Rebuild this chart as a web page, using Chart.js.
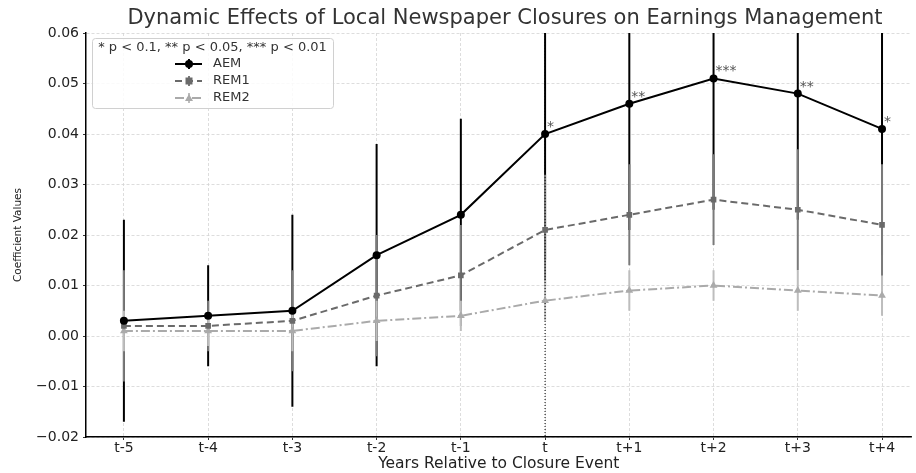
<!DOCTYPE html>
<html>
<head>
<meta charset="utf-8">
<script src="https://cdn.jsdelivr.net/npm/chart.js@4/dist/chart.umd.min.js"></script>
<style>
  html, body { margin: 0; padding: 0; background: #fff; }
  #chart { display: block; }
</style>
</head>
<body>
<canvas id="chart" width="916" height="473"></canvas>
<script>
const categories = ["t-5", "t-4", "t-3", "t-2", "t-1", "t", "t+1", "t+2", "t+3", "t+4"];
const aem = [0.003, 0.004, 0.005, 0.016, 0.024, 0.040, 0.046, 0.051, 0.048, 0.041];
const aemErr = [0.020, 0.010, 0.019, 0.022, 0.019, 0.025, 0.025, 0.026, 0.025, 0.025];
const rem1 = [0.002, 0.002, 0.003, 0.008, 0.012, 0.021, 0.024, 0.027, 0.025, 0.022];
const rem1Err = [0.011, 0.005, 0.010, 0.012, 0.010, 0.011, 0.010, 0.009, 0.012, 0.012];
const rem2 = [0.001, 0.001, 0.001, 0.003, 0.004, 0.007, 0.009, 0.010, 0.009, 0.008];
const rem2Err = [0.004, 0.003, 0.004, 0.004, 0.003, 0.004, 0.004, 0.003, 0.004, 0.004];
const stars = ["", "", "", "", "", "*", "**", "***", "**", "*"];
const eventIndex = 5;
const legendTitle = "* p < 0.1, ** p < 0.05, *** p < 0.01";

const FONT = "'DejaVu Sans', sans-serif";

function points(values) {
  return values.map((v, i) => ({ x: i, y: v }));
}

// vertical error bars, drawn under the lines
const errorBars = {
  id: "errorBars",
  beforeDatasetsDraw(chart) {
    const ctx = chart.ctx;
    const area = chart.chartArea;
    const xs = chart.scales.x;
    const ys = chart.scales.y;
    ctx.save();
    ctx.beginPath();
    ctx.rect(area.left, area.top, area.right - area.left, area.bottom - area.top);
    ctx.clip();
    chart.data.datasets.forEach((ds) => {
      ctx.strokeStyle = ds.errColor;
      ctx.lineWidth = 2;
      ds.data.forEach((p, i) => {
        const x = xs.getPixelForValue(p.x);
        ctx.beginPath();
        ctx.moveTo(x, ys.getPixelForValue(p.y + ds.err[i]));
        ctx.lineTo(x, ys.getPixelForValue(p.y - ds.err[i]));
        ctx.stroke();
      });
    });
    // dotted line at the closure event
    const xe = xs.getPixelForValue(eventIndex);
    ctx.strokeStyle = "#000";
    ctx.lineWidth = 1;
    ctx.setLineDash([1, 2]);
    ctx.beginPath();
    ctx.moveTo(xe, area.top);
    ctx.lineTo(xe, area.bottom);
    ctx.stroke();
    ctx.restore();
  },
  afterDatasetsDraw(chart) {
    const ctx = chart.ctx;
    const xs = chart.scales.x;
    const ys = chart.scales.y;
    ctx.save();
    ctx.fillStyle = "#555";
    ctx.font = "14px " + FONT;
    ctx.textAlign = "left";
    ctx.textBaseline = "alphabetic";
    stars.forEach((s, i) => {
      if (!s) return;
      ctx.fillText(s, xs.getPixelForValue(i) + 2, ys.getPixelForValue(aem[i]) - 3);
    });
    ctx.restore();
  },
};

// title and legend box
const decorations = {
  id: "decorations",
  afterDraw(chart) {
    const ctx = chart.ctx;
    ctx.save();
    ctx.fillStyle = "#333";
    ctx.font = "21px " + FONT;
    ctx.textAlign = "center";
    ctx.textBaseline = "middle";
    ctx.fillText("Dynamic Effects of Local Newspaper Closures on Earnings Management", 505, 19);

    // legend box
    const bx = 92, by = 38, bw = 241, bh = 70;
    ctx.fillStyle = "rgba(255,255,255,0.85)";
    ctx.strokeStyle = "#d0d0d0";
    ctx.lineWidth = 1;
    ctx.beginPath();
    ctx.roundRect(bx + 0.5, by + 0.5, bw, bh, 3);
    ctx.fill();
    ctx.stroke();

    ctx.fillStyle = "#333";
    ctx.font = "13px " + FONT;
    ctx.fillText(legendTitle, bx + bw / 2, 48);

    const rows = [64, 81, 98];
    chart.data.datasets.forEach((ds, k) => {
      const y = rows[k];
      ctx.strokeStyle = ds.borderColor;
      ctx.lineWidth = 2;
      ctx.setLineDash(ds.borderDash || []);
      ctx.beginPath();
      ctx.moveTo(175, y);
      ctx.lineTo(202, y);
      ctx.stroke();
      ctx.setLineDash([]);
      ctx.strokeStyle = ds.errColor;
      ctx.beginPath();
      ctx.moveTo(189, y - 5);
      ctx.lineTo(189, y + 5);
      ctx.stroke();
      ctx.fillStyle = ds.pointBackgroundColor;
      ctx.beginPath();
      if (ds.pointStyle === "rect") {
        ctx.rect(185.5, y - 3.5, 7, 7);
      } else if (ds.pointStyle === "triangle") {
        ctx.moveTo(189, y - 4);
        ctx.lineTo(193, y + 3);
        ctx.lineTo(185, y + 3);
        ctx.closePath();
      } else {
        ctx.arc(189, y, 4, 0, Math.PI * 2);
      }
      ctx.fill();
      ctx.fillStyle = "#333";
      ctx.textAlign = "left";
      ctx.fillText(ds.label, 213, y);
    });
    ctx.restore();
  },
};

new Chart(document.getElementById("chart"), {
  type: "line",
  data: {
    datasets: [
      {
        label: "AEM",
        data: points(aem),
        err: aemErr,
        errColor: "#000",
        borderColor: "#000",
        borderWidth: 2,
        pointStyle: "circle",
        pointRadius: 4,
        pointBackgroundColor: "#000",
        pointBorderWidth: 0,
        order: 0,
      },
      {
        label: "REM1",
        data: points(rem1),
        err: rem1Err,
        errColor: "#7a7a7a",
        borderColor: "#6a6a6a",
        borderWidth: 2,
        borderDash: [7, 4],
        pointStyle: "rect",
        pointRadius: 4,
        pointBackgroundColor: "#6a6a6a",
        pointBorderWidth: 0,
        order: 1,
      },
      {
        label: "REM2",
        data: points(rem2),
        err: rem2Err,
        errColor: "#bdbdbd",
        borderColor: "#aaaaaa",
        borderWidth: 2,
        borderDash: [9, 3, 2, 3],
        pointStyle: "triangle",
        pointRadius: 4.5,
        pointBackgroundColor: "#aaaaaa",
        pointBorderWidth: 0,
        order: 2,
      },
    ],
  },
  options: {
    responsive: false,
    animation: false,
    devicePixelRatio: 1,
    layout: { padding: { top: 33, left: 0, right: 0, bottom: 0 } },
    plugins: {
      legend: { display: false },
      title: { display: false },
      tooltip: { enabled: false },
    },
    elements: { line: { tension: 0 } },
    scales: {
      x: {
        type: "linear",
        min: -0.45,
        max: 9.35,
        afterBuildTicks(scale) {
          scale.ticks = categories.map((c, i) => ({ value: i }));
        },
        afterFit(scale) {
          scale.height = 36;
        },
        ticks: {
          callback: (v) => categories[v],
          color: "#222",
          font: { family: FONT, size: 14 },
          padding: 0,
          maxRotation: 0,
          autoSkip: false,
        },
        grid: {
          color: "#d4d4d4",
          lineWidth: 0.8,
          tickColor: "#000",
          tickLength: 3,
          tickBorderDash: [],
        },
        border: { color: "#000", width: 1.5, dash: [3, 2] },
        title: {
          display: true,
          text: "Years Relative to Closure Event",
          color: "#222",
          font: { family: FONT, size: 15.5 },
          padding: { top: 0, bottom: 0 },
        },
      },
      y: {
        min: -0.02,
        max: 0.06,
        afterFit(scale) {
          scale.width = 86;
        },
        ticks: {
          stepSize: 0.01,
          callback: (v) => (v < -1e-9 ? "\u2212" + Math.abs(v).toFixed(2) : Math.abs(v).toFixed(2)),
          color: "#222",
          font: { family: FONT, size: 14 },
          padding: 4,
        },
        grid: {
          color: "#d4d4d4",
          lineWidth: 0.8,
          tickColor: "#000",
          tickLength: 3,
          tickBorderDash: [],
        },
        border: { color: "#000", width: 1.5, dash: [3, 2] },
        title: {
          display: true,
          text: "Coefficient Values",
          color: "#222",
          font: { family: FONT, size: 10.5 },
          padding: { top: 12, bottom: 0 },
        },
      },
    },
  },
  plugins: [errorBars, decorations],
});
</script>
</body>
</html>
